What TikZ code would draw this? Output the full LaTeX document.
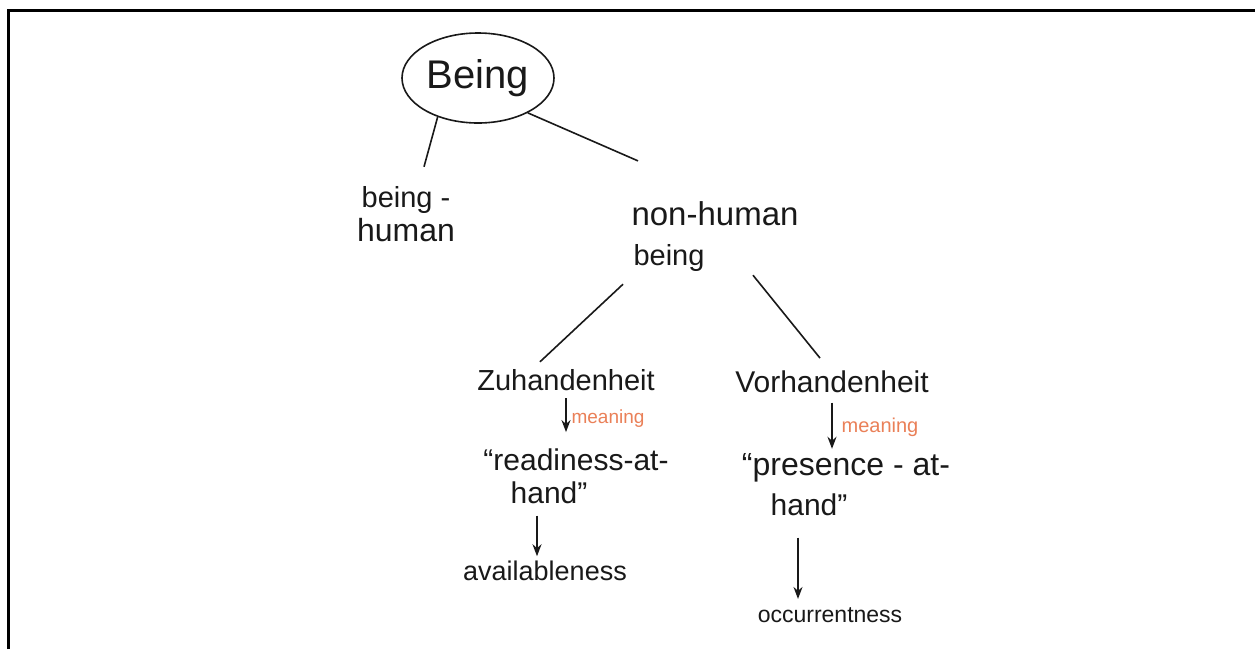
\documentclass[tikz,border=0pt]{standalone}
\usepackage{fontspec}
\setmainfont{Liberation Sans}
\usetikzlibrary{arrows.meta,shapes.geometric}
\definecolor{ink}{RGB}{25,25,25}
\definecolor{meanorange}{RGB}{234,128,88}
\newcommand{\fs}[1]{\fontsize{#1}{#1}\selectfont}
\begin{document}
\begin{tikzpicture}[x=1pt,y=-1pt,
  lbl/.style={anchor=base,inner sep=0pt,text=ink},
  mean/.style={anchor=base,inner sep=0pt,text=meanorange},
  conn/.style={draw=ink,line width=1.6pt},
  arr/.style={conn,-{Stealth[length=12pt,width=9pt]}}]
\useasboundingbox (0,0) rectangle (1255,649);
\fill[white] (0,0) rectangle (1255,649);
\draw[line width=3pt,black] (8,649) -- (8,10) -- (1256,10);

% nodes
\node[ellipse,draw=ink,line width=1.6pt,minimum width=152pt,minimum height=90pt,inner sep=0pt,text=ink,font=\fs{40}] (being) at (478,78) {Being};
\node[lbl,font=\fs{29}] (bh1) at (406,207) {being -};
\node[lbl,font=\fs{32}] (bh2) at (406,241) {human};
\node[lbl,font=\fs{33}] (nh1) at (715,225) {non-human};
\node[lbl,font=\fs{29}] (nh2) at (669,265) {being};
\node[lbl,font=\fs{29}] (zu) at (566,390) {Zuhandenheit};
\node[mean,font=\fs{19}] (m1) at (608,423) {meaning};
\node[lbl,font=\fs{30}] (rd1) at (576,470) {“readiness-at-};
\node[lbl,font=\fs{30}] (rd2) at (549,503) {hand”};
\node[lbl,font=\fs{27}] (av) at (545,580) {availableness};
\node[lbl,font=\fs{30}] (vo) at (832,392) {Vorhandenheit};
\node[mean,font=\fs{20}] (m2) at (880,432) {meaning};
\node[lbl,font=\fs{32}] (pr1) at (846,475) {“presence - at-};
\node[lbl,font=\fs{30}] (pr2) at (809,515) {hand”};
\node[lbl,font=\fs{23}] (oc) at (830,622) {occurrentness};

% connector end points
\coordinate (bhT) at ([xshift=18pt,yshift=19pt]bh1.north);
\coordinate (nhT) at ([xshift=-77pt,yshift=40pt]nh1.north);
\coordinate (nhL) at ([xshift=-46pt,yshift=-13pt]nh2.south);
\coordinate (nhR) at ([xshift=84pt,yshift=-4pt]nh2.south);
\coordinate (zuT) at ([xshift=-26pt,yshift=7pt]zu.north);
\coordinate (voT) at ([xshift=-12pt,yshift=12pt]vo.north);

% tree lines
\draw[conn] (being.224) -- (bhT);
\draw[conn] (being.325) -- (nhT);
\draw[conn] (nhL) -- (zuT);
\draw[conn] (nhR) -- (voT);

% arrows
\draw[arr,shorten <=8pt,shorten >=16pt] (zu.south) -- (zu.south |- rd1.north);
\draw[arr,shorten <=12pt,shorten >=4pt] ([xshift=-12pt]rd2.south) -- ([xshift=-12pt]rd2.south |- av.north);
\draw[arr,shorten <=10pt,shorten >=4pt] (vo.south) -- (vo.south |- pr1.north);
\draw[arr,shorten <=22pt,shorten >=8pt] ([xshift=-11pt]pr2.south) -- ([xshift=-11pt]pr2.south |- oc.north);
\end{tikzpicture}
\end{document}
